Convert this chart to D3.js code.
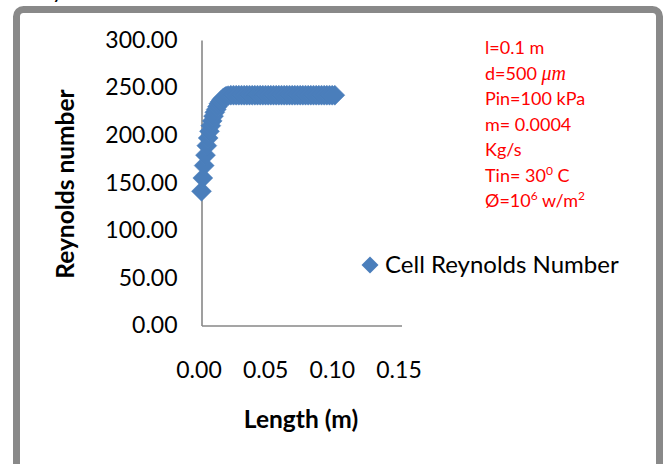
<!DOCTYPE html>
<html>
<head>
<meta charset="utf-8">
<script src="https://cdn.jsdelivr.net/npm/d3@7"></script>
<style>
  body { margin: 0; background: #fff; }
  svg text { font-family: Lato, "Open Sans", sans-serif; }
</style>
</head>
<body>
<svg width="670" height="464"></svg>
<script>
// cell positions along the channel (m) and the cell Reynolds number
var lengthPts = [0, 0.001, 0.002, 0.003, 0.004, 0.005, 0.006, 0.007, 0.008, 0.009,
  0.010, 0.011, 0.012, 0.013, 0.014, 0.015, 0.016, 0.017, 0.018, 0.019, 0.020,
  0.022, 0.024, 0.026, 0.028, 0.030, 0.032, 0.034, 0.036, 0.038, 0.040,
  0.042, 0.044, 0.046, 0.048, 0.050, 0.052, 0.054, 0.056, 0.058, 0.060,
  0.062, 0.064, 0.066, 0.068, 0.070, 0.072, 0.074, 0.076, 0.078, 0.080,
  0.082, 0.084, 0.086, 0.088, 0.090, 0.092, 0.094, 0.096, 0.098, 0.100];
var reynolds = [141, 155, 168, 179, 189, 197, 204, 210, 215, 220,
  224, 227, 230, 233, 235, 237, 238.5, 239.5, 240.5, 241, 241.5,
  242, 242, 242, 242, 242, 242, 242, 242, 242, 242,
  242, 242, 242, 242, 242, 242, 242, 242, 242, 242,
  242, 242, 242, 242, 242, 242, 242, 242, 242, 242,
  242, 242, 242, 242, 242, 242, 242, 242, 242, 242];
var yTicks = [0, 50, 100, 150, 200, 250, 300];
var xTicks = [0, 0.05, 0.10, 0.15];
var seriesName = 'Cell Reynolds Number';
var notes = ['l=0.1 m', 'd=500 ', 'Pin=100 kPa', 'm= 0.0004', 'Kg/s', 'Tin= 30', '\u00D8=10'];

var svg = d3.select('svg');
var blue = '#4a7ebb';
var axisGrey = '#878787';

// outer frame of the chart object (runs off the bottom of the picture)
svg.append('rect')
  .attr('x', 16.5).attr('y', 9.5)
  .attr('width', 643).attr('height', 480)
  .attr('rx', 7)
  .attr('fill', 'none')
  .attr('stroke', '#898989')
  .attr('stroke-width', 7);

// tail of a letter from the text above the figure
svg.append('text').attr('x', 52).attr('y', -2)
  .style('font-size', '22px').text('y');

var x = d3.scaleLinear().domain([0, 0.15]).range([201.5, 401.5]);
var y = d3.scaleLinear().domain([0, 300]).range([325.5, 40]);

var yAxis = svg.append('g')
  .attr('transform', 'translate(201.5,0)')
  .call(d3.axisLeft(y).tickValues(yTicks).tickFormat(d3.format('.2f'))
    .tickSize(0).tickSizeOuter(0).tickPadding(24));
yAxis.select('.domain').attr('stroke', axisGrey).attr('stroke-width', 1.6);
yAxis.selectAll('text').style('font-size', '23px').attr('fill', '#000');

var xAxis = svg.append('g')
  .attr('transform', 'translate(0,325.5)')
  .call(d3.axisBottom(x).tickValues(xTicks).tickFormat(d3.format('.2f'))
    .tickSize(0).tickSizeOuter(0).tickPadding(36));
xAxis.select('.domain').attr('stroke', axisGrey).attr('stroke-width', 1.6);
xAxis.selectAll('text').style('font-size', '23px').attr('fill', '#000').attr('dx', -3);

// markers
var diamond = d3.symbol().type(d3.symbolDiamond2).size(255);
var pts = lengthPts.map((d, i) => ({ len: d, re: reynolds[i] }));
svg.append('g').selectAll('path')
  .data(pts)
  .enter()
  .append('path')
  .attr('d', diamond)
  .attr('transform', d => `translate(${x(d.len)},${y(d.re)})`)
  .attr('fill', blue)
  .attr('stroke', '#4f81bd')
  .attr('stroke-width', 0.5);

// axis titles
svg.append('text')
  .attr('transform', 'translate(74,184) rotate(-90)')
  .attr('text-anchor', 'middle')
  .style('font-size', '24.5px').style('font-weight', 'bold')
  .text('Reynolds number');

svg.append('text')
  .attr('x', 301).attr('y', 428)
  .attr('text-anchor', 'middle')
  .style('font-size', '24.5px').style('font-weight', 'bold')
  .text('Length (m)');

// legend
svg.append('path')
  .attr('d', d3.symbol().type(d3.symbolDiamond2).size(185))
  .attr('transform', 'translate(370,265)')
  .attr('fill', blue);
svg.append('text')
  .attr('x', 385).attr('y', 273)
  .style('font-size', '24px')
  .text(seriesName);

// red parameter notes
var noteG = svg.append('g').attr('fill', '#ff0000').style('font-size', '18px');
notes.forEach(function (s, i) {
  var t = noteG.append('text').attr('x', 485).attr('y', 54 + i * 25.5);
  t.append('tspan').text(s);
  if (i === 1) {
    t.append('tspan').style('font-family', '"Liberation Serif", serif')
      .style('font-style', 'italic').style('font-size', '20px').text('\u03BCm');
  }
  if (i === 5) {
    t.append('tspan').attr('dy', -7).style('font-size', '12px').text('0');
    t.append('tspan').attr('dy', 7).text(' C');
  }
  if (i === 6) {
    t.append('tspan').attr('dy', -7).style('font-size', '12px').text('6');
    t.append('tspan').attr('dy', 7).text(' w/m');
    t.append('tspan').attr('dy', -7).style('font-size', '12px').text('2');
  }
});
</script>
</body>
</html>
